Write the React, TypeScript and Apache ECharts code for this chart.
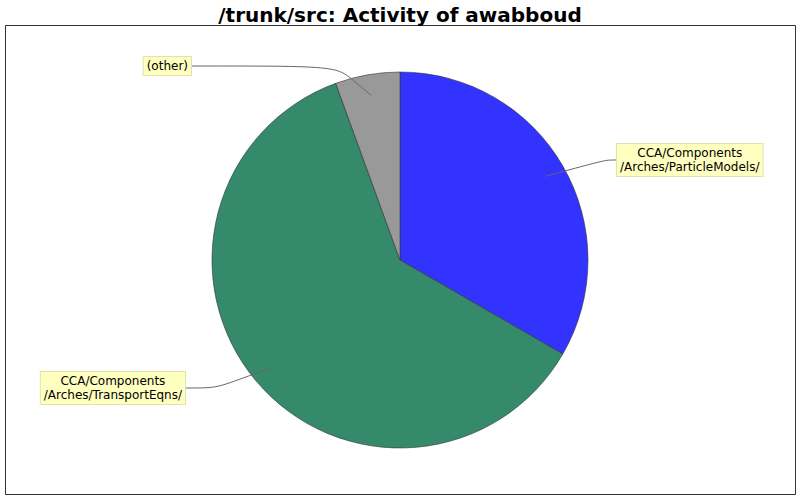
import React, { useEffect, useRef } from 'react'
import * as echarts from 'echarts'

// slices, clockwise from 12 o'clock
const dirNames = [
  'CCA/Components\n/Arches/ParticleModels/',
  'CCA/Components\n/Arches/TransportEqns/',
  '(other)',
]
const dirValues = [6, 11, 1]
const dirColors = ['#3333ff', '#348a6a', '#999999']

// where each label box attaches its line (box edge, middle)
const labelAnchors = [
  { x: 616, y: 160, side: 'left' },
  { x: 186, y: 388, side: 'right' },
  { x: 192, y: 66, side: 'right' },
]

const CX = 400
const CY = 260
const R = 188

export default function App() {
  const chartRef = useRef<HTMLDivElement>(null)

  useEffect(() => {
    document.body.style.margin = '0'
    if (!chartRef.current) return
    const chart = echarts.init(chartRef.current, null, { renderer: 'svg' })

    const total = dirValues.reduce((s, v) => s + v, 0)
    // mid angle of each slice, radians measured clockwise from up
    let acc = 0
    const midAngles = dirValues.map(v => {
      const mid = (acc + v / 2) / total * Math.PI * 2
      acc += v
      return mid
    })

    const pieData = dirNames.map((name, i) => ({
      name,
      value: dirValues[i],
      itemStyle: { color: dirColors[i] },
    }))

    const option = {
      animation: false,
      title: {
        text: '/trunk/src: Activity of awabboud',
        left: 'center',
        top: 0,
        textStyle: {
          fontFamily: 'DejaVu Sans',
          fontSize: 20,
          fontWeight: 'bold',
          color: '#000',
        },
      },
      graphic: [
        {
          type: 'rect',
          shape: { x: 5.5, y: 25.5, width: 790, height: 469 },
          style: { fill: 'none', stroke: '#333', lineWidth: 1 },
          silent: true,
        },
      ],
      series: [
        // the slices
        {
          type: 'pie',
          z: 2,
          center: [CX, CY],
          radius: R,
          startAngle: 90,
          clockwise: true,
          silent: true,
          emphasis: { disabled: true },
          itemStyle: { borderColor: '#333', borderWidth: 0.6 },
          label: { show: false },
          labelLine: { show: false },
          data: pieData,
        },
        // same slices, invisible, only to carry labels + guide lines on top
        {
          type: 'pie',
          z: 5,
          center: [CX, CY],
          radius: R,
          startAngle: 90,
          clockwise: true,
          silent: true,
          emphasis: { disabled: true },
          itemStyle: { color: 'rgba(0,0,0,0)', borderWidth: 0 },
          data: dirNames.map((name, i) => ({ name, value: dirValues[i] })),
          label: {
            show: true,
            formatter: '{b}',
            fontFamily: 'DejaVu Sans',
            fontSize: 12,
            lineHeight: 14,
            color: '#000',
            backgroundColor: '#ffffc0',
            borderColor: '#e2e2b0',
            borderWidth: 1,
            padding: [2, 3, 2, 3],
            align: 'center',
          },
          labelLine: {
            show: true,
            smooth: 1,
            lineStyle: { color: '#666', width: 1 },
          },
          labelLayout: (params: any) => {
            const i = params.dataIndex
            const a = labelAnchors[i]
            const w = params.labelRect.width
            const cx = a.side === 'left' ? a.x + w / 2 : a.x - w / 2
            const ang = midAngles[i]
            const start = [CX + Math.sin(ang) * R * 0.89, CY - Math.cos(ang) * R * 0.89]
            // corner: radial line extended to the label's height
            const t = (a.y - start[1]) / -Math.cos(ang)
            const corner = [start[0] + Math.sin(ang) * t, a.y]
            return {
              x: cx,
              y: a.y,
              align: 'center',
              verticalAlign: 'middle',
              labelLinePoints: [start, corner, [a.x, a.y]],
            }
          },
        },
      ],
    }

    chart.setOption(option as any)
    return () => {
      chart.dispose()
    }
  }, [])

  return <div ref={chartRef} style={{ width: 800, height: 500, background: '#fff' }} />
}
